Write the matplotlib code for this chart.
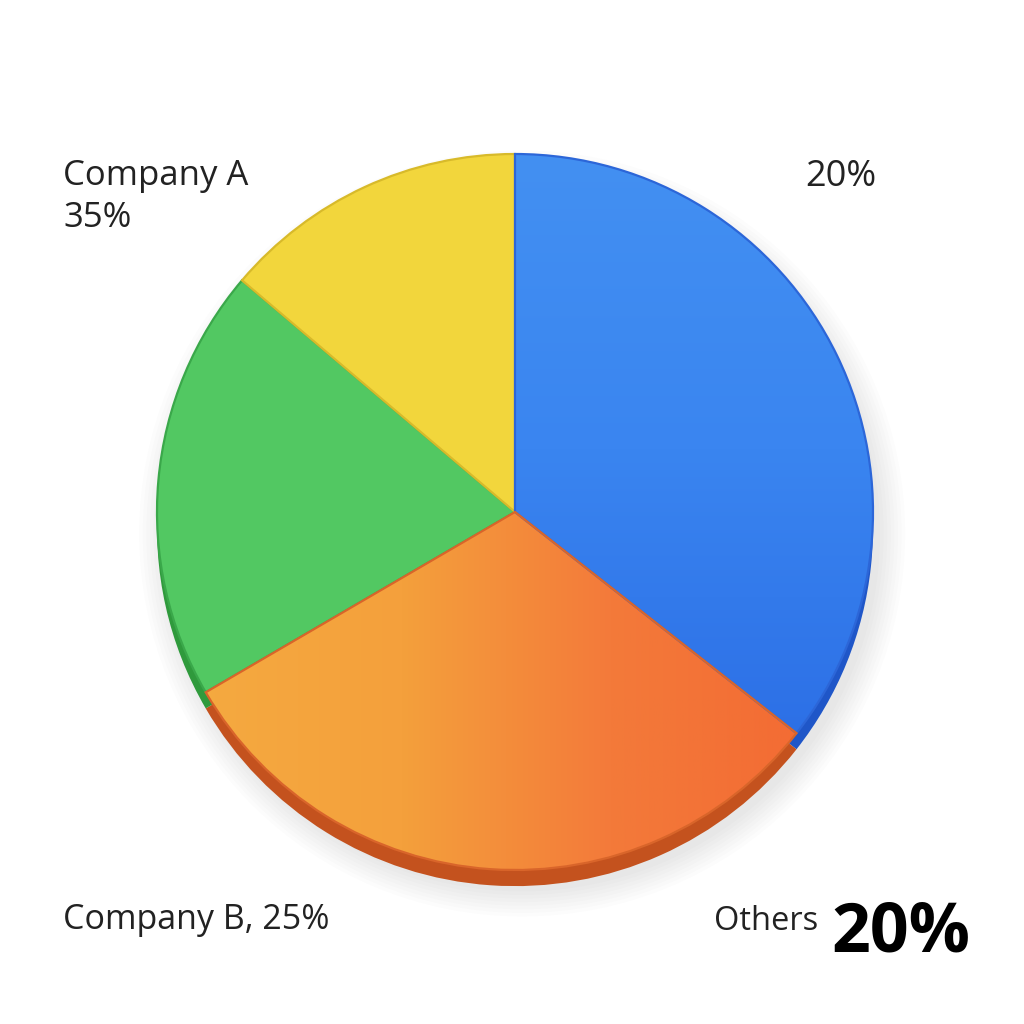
import numpy as np
import matplotlib.pyplot as plt
from matplotlib.colors import LinearSegmentedColormap
from matplotlib.patches import Ellipse

# slice shares, clockwise from 12 o'clock
names = ["Blue", "Orange", "Green", "Yellow"]
shares = [35.6, 31.0, 19.6, 13.8]
top_colors = ["#3B84F0", "#F4903A", "#52C862", "#F2D63C"]
side_colors = ["#1F56C8", "#C4521E", "#2F9A3C", "#C9A722"]
edge_colors = ["#2C66D8", "#D9652A", "#3AA84A", "#D8BA2A"]

label_a = "Company A"
label_a_val = "35%"
label_top = "20%"
label_b = "Company B, 25%"
label_o = "Others"
label_o_val = "20%"

plt.rcParams['font.family'] = ['Open Sans', 'DejaVu Sans']

fig = plt.figure(figsize=(10.24, 10.24), dpi=100)
fig.patch.set_facecolor("white")
ax = fig.add_axes([0, 0, 1, 1])

R = 1.0
cx_px, cy_px, r_px = 515, 512, 358

# soft shadow under the disc
for k in range(8):
    ax.add_patch(Ellipse((0.02, -0.06), 2.0 * R + 0.02 * k, 2.0 * R + 0.02 * k,
                         facecolor="#000000", alpha=0.01, lw=0, zorder=0))

# side / thickness of the disc
ax.pie(shares, colors=side_colors, startangle=90, counterclock=False,
       radius=R, center=(0, -0.045),
       wedgeprops=dict(linewidth=0, zorder=1))

wedges, _ = ax.pie(shares, colors=top_colors, startangle=90, counterclock=False,
                   radius=R, center=(0, 0),
                   wedgeprops=dict(linewidth=1.6, zorder=2))
for w, ec in zip(wedges, edge_colors):
    w.set_edgecolor(ec)
    w.set_zorder(2)

# orange slice has a left-to-right gradient
orange = wedges[1]
cmap = LinearSegmentedColormap.from_list("og", ["#F5AA40", "#F4A03C", "#F37A3A", "#F36A33"])
grad = np.linspace(0, 1, 256).reshape(1, -1)
img = ax.imshow(grad, cmap=cmap, extent=(-0.9, 0.85, -1.0, 0.0), aspect="auto", zorder=2.5)
img.set_clip_path(orange)
orange.set_facecolor("none")
orange.set_zorder(3)

# blue slice: slightly lighter near the top
blue = wedges[0]
bcmap = LinearSegmentedColormap.from_list("bl", ["#2C6FE6", "#3A85F0", "#4390F2"])
bgrad = np.linspace(0, 1, 256).reshape(-1, 1)
bimg = ax.imshow(bgrad, cmap=bcmap, extent=(0, 1.0, -0.65, 1.0), origin="lower",
                 aspect="auto", zorder=2.5)
bimg.set_clip_path(blue)
blue.set_facecolor("none")
blue.set_zorder(3)

ax.set_xlim(-cx_px / r_px, (1024 - cx_px) / r_px)
ax.set_ylim(-(1024 - cy_px) / r_px, cy_px / r_px)
ax.set_aspect("equal")
ax.axis("off")

def px(x, y):
    return x / 1024, 1 - y / 1024

fig.text(*px(63, 176), label_a, fontsize=25, color="#222222", ha="left", va="center")
fig.text(*px(63, 218), label_a_val, fontsize=25, color="#222222", ha="left", va="center")
fig.text(*px(876, 177), label_top, fontsize=26, color="#222222", ha="right", va="center")
fig.text(*px(63, 920), label_b, fontsize=24.5, color="#222222", ha="left", va="center")
fig.text(*px(818, 921), label_o, fontsize=23.5, color="#222222", ha="right", va="center")
fig.text(*px(970, 934), label_o_val, fontsize=49, fontweight="bold", color="black",
         ha="right", va="center")

fig.savefig("out.png", dpi=100, facecolor="white")
